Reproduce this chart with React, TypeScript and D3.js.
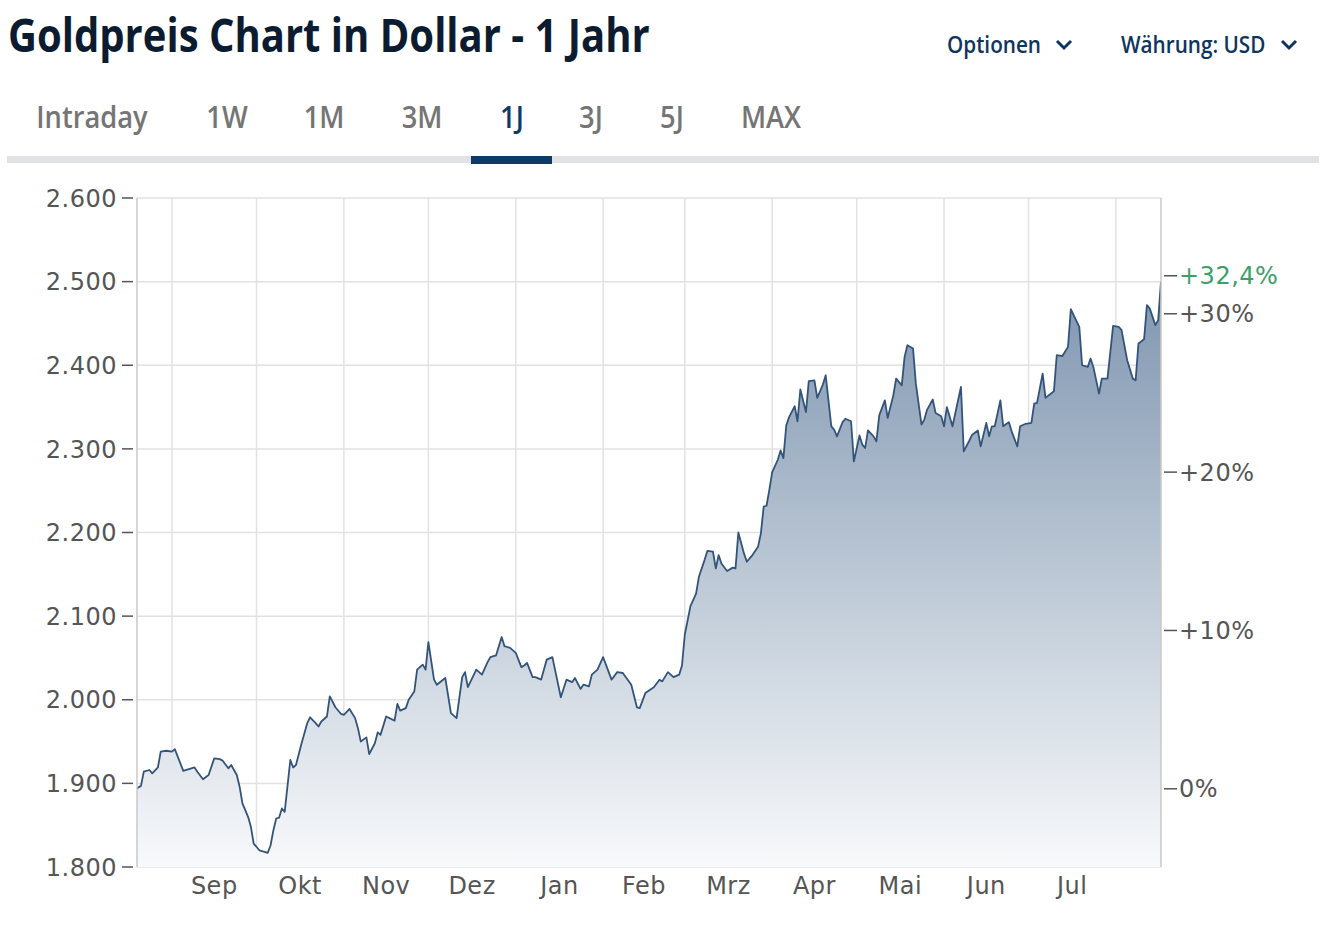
import React from "react";
import * as d3 from "d3";

const dates: string[] = [
  "2023-08-19","2023-08-21","2023-08-22","2023-08-24","2023-08-25","2023-08-27","2023-08-28","2023-08-30",
  "2023-09-01","2023-09-02","2023-09-05","2023-09-07","2023-09-09","2023-09-10","2023-09-12","2023-09-14",
  "2023-09-16","2023-09-18","2023-09-19","2023-09-21","2023-09-22","2023-09-24","2023-09-25","2023-09-26",
  "2023-09-28","2023-09-29","2023-09-30","2023-10-02","2023-10-05","2023-10-06","2023-10-07","2023-10-08",
  "2023-10-09","2023-10-10","2023-10-11","2023-10-13","2023-10-14","2023-10-15","2023-10-17","2023-10-19",
  "2023-10-20","2023-10-22","2023-10-23","2023-10-24","2023-10-26","2023-10-27","2023-10-29","2023-10-31",
  "2023-11-01","2023-11-03","2023-11-05","2023-11-06","2023-11-07","2023-11-09","2023-11-10","2023-11-12",
  "2023-11-13","2023-11-14","2023-11-16","2023-11-19","2023-11-20","2023-11-21","2023-11-23","2023-11-24",
  "2023-11-26","2023-11-27","2023-11-29","2023-11-30","2023-12-01","2023-12-03","2023-12-04","2023-12-07",
  "2023-12-09","2023-12-11","2023-12-13","2023-12-14","2023-12-15","2023-12-18","2023-12-20","2023-12-22",
  "2023-12-23","2023-12-25","2023-12-27","2023-12-28","2023-12-30","2024-01-01","2024-01-03","2024-01-04",
  "2024-01-05","2024-01-07","2024-01-08","2024-01-10","2024-01-12","2024-01-14","2024-01-17","2024-01-19",
  "2024-01-21","2024-01-22","2024-01-24","2024-01-25","2024-01-27","2024-01-28","2024-01-30","2024-02-01",
  "2024-02-04","2024-02-06","2024-02-08","2024-02-11","2024-02-13","2024-02-14","2024-02-16","2024-02-19",
  "2024-02-21","2024-02-22","2024-02-24","2024-02-26","2024-02-28","2024-02-29","2024-03-01","2024-03-03",
  "2024-03-05","2024-03-06","2024-03-08","2024-03-09","2024-03-11","2024-03-12","2024-03-13","2024-03-14",
  "2024-03-16","2024-03-18","2024-03-19","2024-03-20","2024-03-22","2024-03-23","2024-03-25","2024-03-27",
  "2024-03-28","2024-03-29","2024-03-30","2024-03-31","2024-04-01","2024-04-03","2024-04-04","2024-04-05",
  "2024-04-06","2024-04-07","2024-04-09","2024-04-10","2024-04-11","2024-04-13","2024-04-14","2024-04-16",
  "2024-04-17","2024-04-19","2024-04-20","2024-04-22","2024-04-23","2024-04-24","2024-04-26","2024-04-27",
  "2024-04-29","2024-04-30","2024-05-02","2024-05-03","2024-05-04","2024-05-05","2024-05-07","2024-05-08",
  "2024-05-09","2024-05-11","2024-05-12","2024-05-14","2024-05-15","2024-05-17","2024-05-18","2024-05-19",
  "2024-05-21","2024-05-22","2024-05-24","2024-05-25","2024-05-26","2024-05-28","2024-05-29","2024-05-31",
  "2024-06-01","2024-06-02","2024-06-04","2024-06-07","2024-06-08","2024-06-10","2024-06-11","2024-06-13",
  "2024-06-14","2024-06-16","2024-06-17","2024-06-18","2024-06-19","2024-06-21","2024-06-22","2024-06-24",
  "2024-06-25","2024-06-27","2024-06-28","2024-06-30","2024-07-02","2024-07-03","2024-07-04","2024-07-06",
  "2024-07-07","2024-07-10","2024-07-11","2024-07-13","2024-07-15","2024-07-16","2024-07-17","2024-07-19",
  "2024-07-20","2024-07-22","2024-07-23","2024-07-24","2024-07-26","2024-07-27","2024-07-29","2024-07-31",
  "2024-08-02","2024-08-03","2024-08-05","2024-08-07","2024-08-08","2024-08-09","2024-08-11","2024-08-12",
  "2024-08-13","2024-08-15","2024-08-16","2024-08-17",
];

const prices: number[] = [
  1893,1897,1914,1916,1912,1919,1938,1939,
  1938,1941,1915,1917,1919,1914,1905,1910,
  1930,1929,1927,1918,1922,1910,1896,1876,
  1860,1848,1828,1820,1817,1826,1844,1858,
  1859,1870,1866,1928,1919,1922,1948,1972,
  1979,1972,1968,1974,1980,2004,1991,1983,
  1982,1989,1978,1966,1950,1955,1935,1948,
  1961,1958,1980,1975,1995,1987,1990,2000,
  2010,2036,2042,2036,2069,2024,2018,2026,
  1984,1978,2027,2033,2015,2036,2030,2045,
  2051,2053,2075,2064,2062,2056,2039,2041,
  2044,2027,2027,2024,2048,2051,2003,2024,
  2021,2026,2013,2018,2016,2030,2036,2051,
  2024,2033,2032,2018,1991,1990,2008,2015,
  2024,2022,2033,2027,2030,2041,2078,2112,
  2127,2147,2167,2178,2177,2157,2173,2163,
  2154,2158,2157,2200,2175,2165,2173,2183,
  2199,2231,2232,2251,2272,2287,2298,2289,
  2328,2338,2351,2333,2371,2344,2381,2382,
  2361,2377,2388,2327,2323,2315,2332,2336,
  2333,2285,2316,2305,2301,2322,2315,2309,
  2340,2358,2337,2364,2384,2376,2410,2424,
  2420,2378,2329,2335,2347,2359,2343,2339,
  2327,2350,2327,2374,2297,2310,2317,2322,
  2303,2331,2315,2327,2327,2358,2327,2332,
  2321,2303,2327,2330,2331,2354,2355,2390,
  2361,2369,2412,2411,2422,2467,2460,2446,
  2400,2398,2408,2398,2366,2384,2384,2447,
  2446,2442,2406,2384,2382,2426,2431,2472,
  2468,2448,2454,2500,
];

const priceTicks: number[] = [1800, 1900, 2000, 2100, 2200, 2300, 2400, 2500, 2600];
const pctTicks: number[] = [0, 10, 20, 30];
const lastChangePct = 32.4;
const basePrice = 1893.5;
const monthStarts: string[] = [
  "2023-09-01","2023-10-01","2023-11-01","2023-12-01","2024-01-01","2024-02-01",
  "2024-03-01","2024-04-01","2024-05-01","2024-06-01","2024-07-01","2024-08-01",
];
const monthLabels: string[] = ["Sep","Okt","Nov","Dez","Jan","Feb","Mrz","Apr","Mai","Jun","Jul"];
const tabs: string[] = ["Intraday","1W","1M","3M","1J","3J","5J","MAX"];
const activeTab = "1J";

const W = 1342, H = 930;
const plot = { left: 137, right: 1161, top: 198, bottom: 867 };

export default function App() {
  const parse = d3.utcParse("%Y-%m-%d");
  const data = dates.map((d, i) => ({ date: parse(d) as Date, value: prices[i] }));

  const x = d3.scaleUtc()
    .domain([new Date(Date.UTC(2023, 7, 19, 14)), new Date(Date.UTC(2024, 7, 17, 0))])
    .range([plot.left, plot.right]);
  const y = d3.scaleLinear().domain([1800, 2600]).range([plot.bottom, plot.top]);
  const yPct = (p: number) => y(basePrice * (1 + p / 100));

  const de = d3.formatLocale({ decimal: ",", thousands: ".", grouping: [3], currency: ["", "€"] });
  const fmtPrice = de.format(",d");
  const fmtPct = de.format("+,.1f");

  const line = d3.line<{ date: Date; value: number }>()
    .x(d => x(d.date)).y(d => y(d.value));
  const area = d3.area<{ date: Date; value: number }>()
    .x(d => x(d.date)).y0(plot.bottom).y1(d => y(d.value));

  const ms = monthStarts.map(s => parse(s) as Date);
  const axisFont = "'DejaVu Sans', Verdana, sans-serif";
  const uiFont = "'Open Sans', sans-serif";
  const axisSize = 24;
  const axisSpacing = 0.5;

  const tabX: number[] = [92, 227, 324, 422, 512, 591, 672, 771];

  return (
    <svg width={W} height={H} style={{ position: "absolute", left: 0, top: 0, background: "#fff" }}>
      <defs>
        <linearGradient id="fillGrad" gradientUnits="userSpaceOnUse" x1="0" y1={y(2500)} x2="0" y2={plot.bottom}>
          <stop offset="0" stopColor="#7f95b0" />
          <stop offset="0.55" stopColor="#c2cdd9" />
          <stop offset="1" stopColor="#f8f9fb" />
        </linearGradient>
        <clipPath id="plotClip">
          <rect x={plot.left} y={plot.top - 10} width={plot.right - plot.left} height={plot.bottom - plot.top + 10} />
        </clipPath>
      </defs>

      {/* Header */}
      <g transform="translate(8,52) scale(0.87,1)">
        <text x={0} y={0} fontFamily={uiFont} fontWeight={700} fontSize={46} fill="#0c1c30">
          Goldpreis Chart in Dollar - 1 Jahr
        </text>
      </g>
      <g transform="translate(947,53) scale(0.9,1)">
        <text x={0} y={0} fontFamily={uiFont} fontWeight={600} fontSize={23} fill="#0d3560">Optionen</text>
      </g>
      <path d="M1057,41 L1064,48 L1071,41" fill="none" stroke="#0d3560" strokeWidth={3} />
      <g transform="translate(1121,53) scale(0.9,1)">
        <text x={0} y={0} fontFamily={uiFont} fontWeight={600} fontSize={23} fill="#0d3560">Währung: USD</text>
      </g>
      <path d="M1282,41 L1289,48 L1296,41" fill="none" stroke="#0d3560" strokeWidth={3} />

      {/* Tabs */}
      {tabs.map((t, i) => (
        <g key={t} transform={`translate(${tabX[i]},128) scale(0.88,1)`}>
          <text x={0} y={0} textAnchor="middle" fontFamily={uiFont} fontWeight={600} fontSize={31}
            fill={t === activeTab ? "#0d3a66" : "#757575"}>{t}</text>
        </g>
      ))}
      <rect x={7} y={156} width={1312} height={7} fill="#e1e2e3" />
      <rect x={471} y={156} width={81} height={8} fill="#0d3a66" />

      {/* Grid */}
      {priceTicks.map(v => (
        <line key={"h" + v} x1={plot.left} x2={plot.right} y1={y(v)} y2={y(v)} stroke="#e2e2e2" strokeWidth={1.5} />
      ))}
      {ms.map((d, i) => (
        <line key={"v" + i} x1={x(d)} x2={x(d)} y1={plot.top} y2={plot.bottom} stroke="#e2e2e2" strokeWidth={1.5} />
      ))}

      {/* Area + line */}
      <g clipPath="url(#plotClip)">
        <path d={area(data) || ""} fill="url(#fillGrad)" />
        <path d={line(data) || ""} fill="none" stroke="#33547a" strokeWidth={1.8} strokeLinejoin="round" />
      </g>

      {/* Axes lines */}
      <line x1={plot.left} x2={plot.left} y1={plot.top} y2={plot.bottom} stroke="#c8c8c8" strokeWidth={1.5} />
      <line x1={plot.right} x2={plot.right} y1={plot.top} y2={plot.bottom} stroke="#c8c8c8" strokeWidth={1.5} />

      {/* Left axis */}
      {priceTicks.map(v => (
        <g key={"l" + v}>
          <line x1={122} x2={133} y1={y(v)} y2={y(v)} stroke="#555" strokeWidth={1.5} />
          <text x={117} y={y(v)} dy="0.36em" textAnchor="end" fontFamily={axisFont} fontSize={axisSize}
            letterSpacing={axisSpacing} fill="#555">
            {fmtPrice(v)}
          </text>
        </g>
      ))}

      {/* Right axis */}
      {pctTicks.map(p => (
        <g key={"r" + p}>
          <line x1={1164} x2={1177} y1={yPct(p)} y2={yPct(p)} stroke="#555" strokeWidth={1.5} />
          <text x={1179} y={yPct(p)} dy="0.36em" fontFamily={axisFont} fontSize={axisSize}
            letterSpacing={axisSpacing} fill="#555">
            {p === 0 ? "0%" : `+${p}%`}
          </text>
        </g>
      ))}
      <g>
        <line x1={1164} x2={1177} y1={yPct(lastChangePct)} y2={yPct(lastChangePct)} stroke="#555" strokeWidth={1.5} />
        <text x={1179} y={yPct(lastChangePct)} dy="0.36em" fontFamily={axisFont} fontSize={axisSize}
          letterSpacing={axisSpacing} fill="#3a9f68">
          {fmtPct(lastChangePct)}%
        </text>
      </g>

      {/* Month labels */}
      {monthLabels.map((m, i) => (
        <text key={m} x={(x(ms[i]) + x(ms[i + 1])) / 2} y={894} textAnchor="middle"
          fontFamily={axisFont} fontSize={axisSize} letterSpacing={axisSpacing} fill="#555">{m}</text>
      ))}
    </svg>
  );
}
